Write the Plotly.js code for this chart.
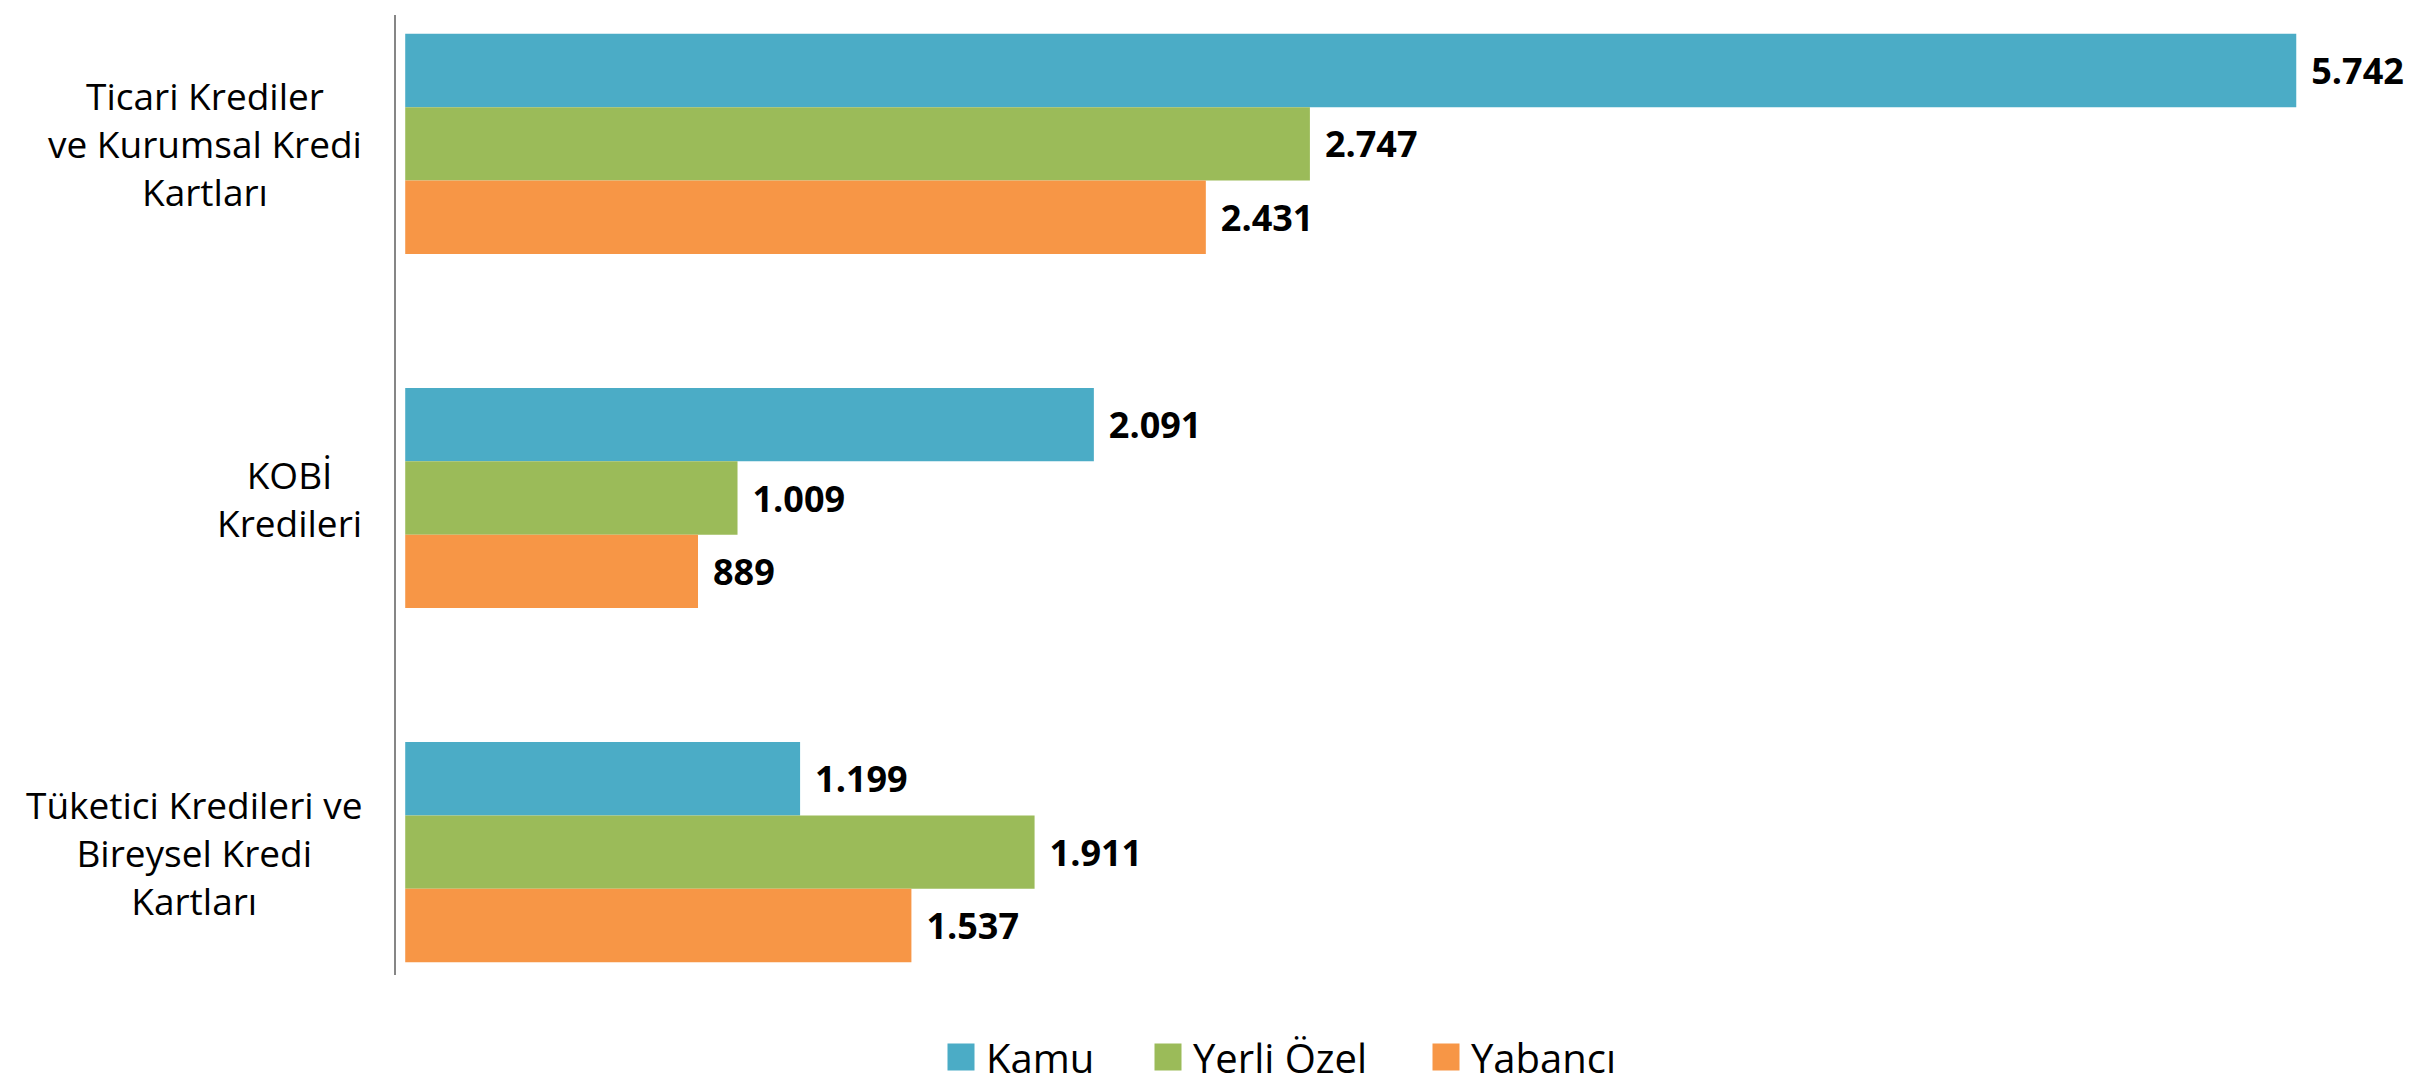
<!DOCTYPE html>
<html>
<head>
<meta charset="utf-8">
<script src="https://cdn.plot.ly/plotly-3.0.1.min.js"></script>
<style>
  html, body { margin: 0; padding: 0; background: #ffffff; }
  #chart { width: 2420px; height: 1088px; }
</style>
</head>
<body>
<div id="chart"></div>
<script>
// ---- data ----
const categories = [
  'Ticari Krediler<br>ve Kurumsal Kredi<br>Kartları',
  'KOBİ<br>Kredileri',
  'Tüketici Kredileri ve<br>Bireysel Kredi<br>Kartları'
];
const seriesNames = ['Kamu', 'Yerli Özel', 'Yabancı'];
const kamu = [5742, 2091, 1199];
const yerliOzel = [2747, 1009, 1911];
const yabanci = [2431, 889, 1537];
const seriesValues = [kamu, yerliOzel, yabanci];
const seriesColors = ['#4BACC6', '#9BBB59', '#F79646'];

// ---- style ----
const FONT = 'Open Sans';
const legendIds = ['legend', 'legend2', 'legend3'];
const legendCenters = [961, 1168, 1446];

const traces = seriesNames.map((name, i) => ({
  type: 'bar',
  orientation: 'h',
  name: name,
  y: categories,
  x: seriesValues[i],
  marker: { color: seriesColors[i], line: { width: 0 } },
  texttemplate: '\u2004%{x:,.0f}',
  textposition: 'outside',
  cliponaxis: false,
  textfont: { family: FONT, size: 36, color: '#000000', weight: 'bold' },
  hoverinfo: 'x+name',
  legend: legendIds[i]
}));

const annotations = categories.map(c => ({
  text: c,
  x: 0, xref: 'paper', xanchor: 'right', xshift: -32,
  y: c, yref: 'y', yanchor: 'middle',
  showarrow: false, align: 'center',
  font: { family: FONT, size: 37, color: '#000000' }
}));

const layout = {
  width: 2420, height: 1088,
  paper_bgcolor: '#ffffff', plot_bgcolor: '#ffffff',
  margin: { l: 396, r: 20, t: 15, b: 113, pad: 0 },
  separators: ',.',
  barmode: 'group',
  bargap: 0.3785,
  bargroupgap: 0,
  font: { family: FONT, color: '#000000' },
  xaxis: {
    range: [-28, 6057],
    showgrid: false, zeroline: false, showticklabels: false, ticks: '',
    showline: false, fixedrange: true
  },
  yaxis: {
    type: 'category',
    range: [2.347, -0.364],
    showgrid: false, zeroline: false, showticklabels: false, ticks: '',
    showline: true, linecolor: '#868686', linewidth: 2, fixedrange: true
  },
  annotations: annotations,
  showlegend: true
};

legendIds.forEach((id, i) => {
  layout[id] = {
    orientation: 'h',
    xref: 'container', yref: 'container',
    x: (legendCenters[i] - 25) / 2420, xanchor: 'left',
    y: 1 - 1057 / 1088, yanchor: 'middle',
    itemwidth: 40,
    bgcolor: 'rgba(0,0,0,0)', borderwidth: 0,
    font: { family: FONT, size: 40, color: '#000000' },
    itemclick: false, itemdoubleclick: false
  };
});

Plotly.newPlot('chart', traces, layout, { displayModeBar: false, staticPlot: true }).then(gd => {
  gd.querySelectorAll('.legendpoints path').forEach(p => {
    const t = p.getAttribute('transform') || '';
    p.setAttribute('transform', t + ' scale(2.25)');
  });
});
</script>
</body>
</html>
